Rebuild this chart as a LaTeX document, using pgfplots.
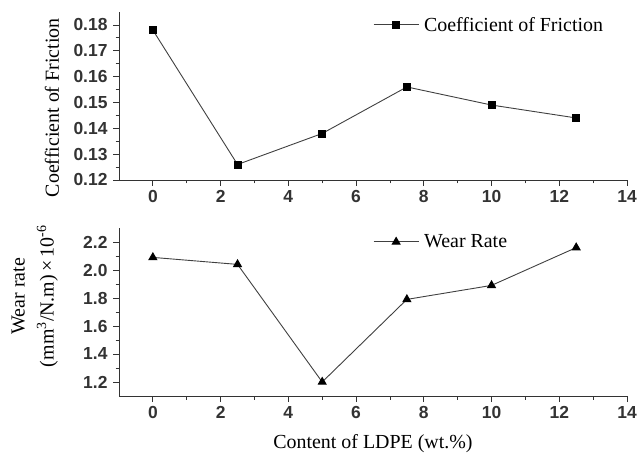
\documentclass[border=0pt]{standalone}
\usepackage{pgfplots}
\pgfplotsset{compat=1.18}
\usepackage{pgfplotstable}
\usepackage{fontspec}
\setmainfont{Liberation Serif}
\setsansfont{Liberation Sans}

\pgfplotstableread{
x y
0 0.178
2.5 0.126
5 0.138
7.5 0.156
10 0.149
12.5 0.144
}\cof
\pgfplotstableread{
x y
0 2.09
2.5 2.04
5 1.20
7.5 1.79
10 1.89
12.5 2.16
}\wear

\pgfplotsset{
 mystyle/.style={
  scale only axis, width=508bp, height=168bp,
  xmin=-1, xmax=14,
  axis x line*=bottom, axis y line*=left,
  axis line style={-, line width=0.9bp, black!80},
  xtick={0,2,...,14}, minor x tick num=1,
  minor y tick num=1,
  tick align=outside,
  major tick length=6bp, minor tick length=3.5bp,
  every tick/.style={black!80, line width=0.8bp},
  tick label style={font=\fontsize{17.5}{17.5}\selectfont\sffamily\bfseries, text=black!80},
  yticklabel style={xshift=-2bp},
  xticklabel style={yshift=-1bp},
  /pgf/number format/assume math mode=true,
  legend style={draw=none, fill=none, font=\fontsize{20}{20}\selectfont, inner sep=0pt, cells={anchor=west}},
  legend image code/.code={\draw[mark repeat=2, mark phase=2] plot coordinates {(0bp,0bp) (22.5bp,0bp) (45bp,0bp)};},
 }
}

\begin{document}
\begin{tikzpicture}
\useasboundingbox (0,0) rectangle (639bp,454bp);
\begin{axis}[mystyle,
  at={(119bp,274bp)}, anchor=south west,
  ymin=0.12, ymax=0.185,
  ytick={0.12,0.13,...,0.18},
  yticklabel style={/pgf/number format/.cd, fixed, fixed zerofill, precision=2},
  ylabel={Coefficient of Friction},
  every axis y label/.style={at={(rel axis cs:-0.132,0.43)}, rotate=90, anchor=center, font=\fontsize{20}{20}\selectfont},
  legend style={at={(0.5,0.923)}, anchor=west},
]
\addplot[black!75, line width=0.9bp, mark=square*, mark size=3.5bp, mark options={fill=black, draw=black, solid}] table[x=x,y=y] {\cof};
\addlegendentry{\hspace{3bp}Coefficient of Friction}
\end{axis}

\begin{axis}[mystyle,
  at={(119bp,58bp)}, anchor=south west,
  ymin=1.1, ymax=2.3,
  ytick={1.2,1.4,...,2.21},
  yticklabel style={/pgf/number format/.cd, fixed, fixed zerofill, precision=1},
  ylabel={Wear rate\\(mm\textsuperscript{3}/N.m)\,×\,10\textsuperscript{-6}},
  every axis y label/.style={at={(rel axis cs:-0.166,0.595)}, rotate=90, anchor=center, align=center, font=\fontsize{20}{29}\selectfont},
  xlabel={Content of LDPE (wt.\%)},
  every axis x label/.style={at={(rel axis cs:0.5,-0.286)}, anchor=center, font=\fontsize{20}{20}\selectfont},
  legend style={at={(0.5,0.917)}, anchor=west},
]
\addplot[black!75, line width=0.9bp, mark=triangle*, mark size=4.5bp, mark options={fill=black, draw=black, solid}] table[x=x,y=y] {\wear};
\addlegendentry{\hspace{3bp}Wear Rate}
\end{axis}
\end{tikzpicture}
\end{document}
